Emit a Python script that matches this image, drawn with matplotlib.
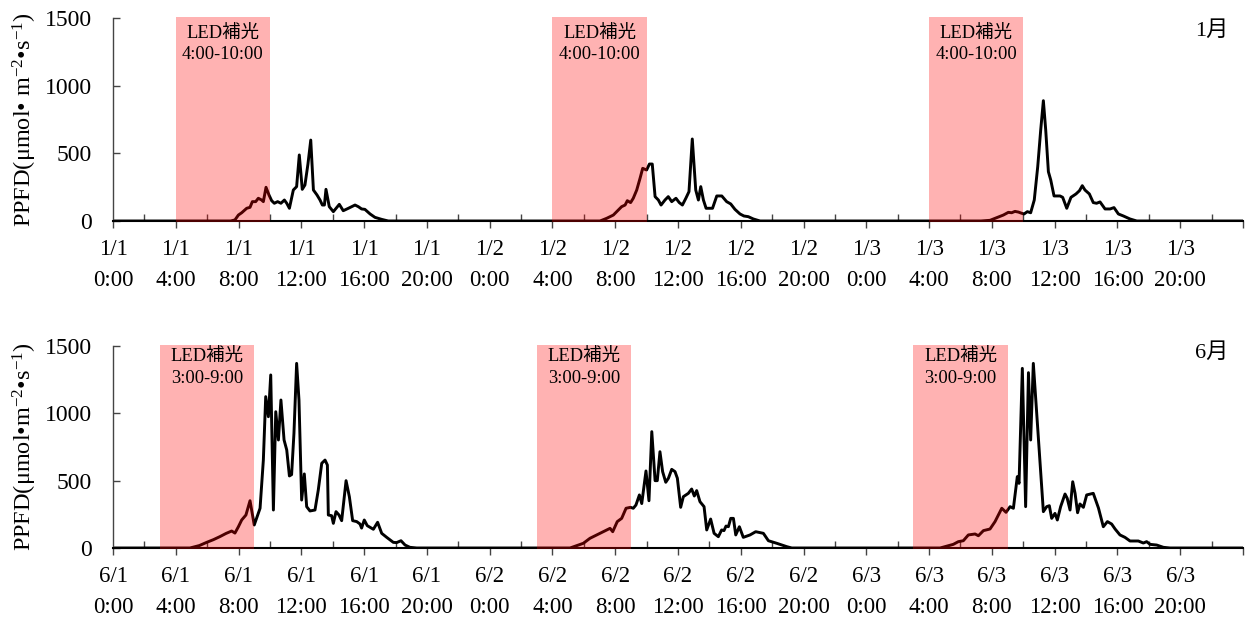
import numpy as np
import matplotlib
matplotlib.use("Agg")
import matplotlib.pyplot as plt
from matplotlib.ticker import FixedLocator

plt.rcParams['font.family'] = ['Liberation Serif', 'Noto Sans CJK JP']
plt.rcParams['mathtext.fontset'] = 'custom'
plt.rcParams['mathtext.rm'] = 'Liberation Serif'
plt.rcParams['mathtext.it'] = 'Liberation Serif:italic'

# ---------------- data (hours since day-1 0:00, PPFD) ----------------
jan_d1_t = [0, 7.5, 7.77, 7.99, 8.2, 8.52, 8.73, 8.88, 9.09, 9.26, 9.47, 9.58, 9.75, 9.94, 10.11,
            10.28, 10.49, 10.7, 10.92, 11.07, 11.24, 11.49, 11.7, 11.87, 12.06, 12.23, 12.42, 12.6,
            12.77, 13.0, 13.19, 13.34, 13.47, 13.57, 13.78, 14.04, 14.42, 14.67, 15.0, 15.42, 15.63,
            15.84, 16.05, 16.38, 16.69, 17.12, 17.54]
jan_d1_v = [0, 0, 8, 44, 61, 94, 101, 143, 143, 168, 155, 143, 249, 192, 150,
            131, 143, 131, 155, 131, 94, 229, 254, 488, 234, 266, 420, 598,
            229, 192, 155, 118, 118, 234, 106, 69, 123, 76, 94, 118, 106,
            89, 86, 52, 27, 12, 0]

jan_d2_t = [31.03, 31.46, 31.88, 32.2, 32.41, 32.63, 32.77, 32.98, 33.15, 33.37, 33.58, 33.75, 34.0,
            34.18, 34.36, 34.54, 34.75, 34.92, 35.17, 35.38, 35.6, 35.87, 36.08, 36.28, 36.5, 36.7,
            36.91, 37.13, 37.3, 37.45, 37.62, 37.79, 38.2, 38.47, 38.79, 39.1, 39.36, 39.63, 39.95,
            40.2, 40.48, 40.8, 41.23]
jan_d2_v = [0, 20, 44, 81, 106, 118, 150, 136, 168, 229, 315, 389, 377,
            421, 421, 180, 155, 118, 155, 180, 143, 168, 136, 118, 168, 217,
            606, 229, 155, 254, 155, 94, 94, 185, 185, 143, 126, 86, 52,
            37, 32, 15, 0]

jan_d3_t = [55.3, 55.88, 56.31, 56.73, 57.05, 57.26, 57.47, 57.69, 57.9, 58.05, 58.26, 58.47, 58.7,
            58.92, 59.11, 59.28, 59.43, 59.6, 59.75, 59.96, 60.34, 60.51, 60.77, 61.04, 61.36, 61.58,
            61.76, 61.93, 62.21, 62.46, 62.67, 62.89, 63.21, 63.53, 63.78, 64.06, 64.38, 64.8, 65.23]
jan_d3_v = [0, 5, 25, 44, 64, 61, 71, 66, 57, 52, 69, 61, 155,
            401, 672, 889, 672, 364, 303, 185, 185, 175, 94, 175, 200, 224,
            261, 229, 200, 136, 131, 141, 89, 89, 99, 52, 37, 15, 0]

jun_d1_t = [0, 4.9, 5.5, 5.97, 6.4, 6.82, 7.2, 7.56, 7.77, 7.99, 8.2, 8.47, 8.73, 9.0, 9.37, 9.58,
            9.73, 9.9, 10.05, 10.22, 10.37, 10.54, 10.7, 10.9, 11.07, 11.24, 11.38, 11.53, 11.7,
            11.85, 12.02, 12.19, 12.34, 12.55, 12.87, 13.08, 13.3, 13.51, 13.66, 13.72, 13.93,
            14.04, 14.21, 14.4, 14.57, 14.85, 15.06, 15.27, 15.53, 15.74, 15.84, 16.01, 16.2,
            16.59, 16.86, 17.12, 17.44, 17.86, 18.07, 18.35, 18.61, 18.92, 19.35]
jun_d1_v = [0, 0, 18, 42, 62, 85, 108, 126, 111, 158, 208, 245, 351, 171, 295, 653,
            1124, 975, 1285, 282, 1012, 802, 1099, 802, 728, 535, 545, 852, 1371,
            1099, 356, 550, 307, 275, 282, 431, 629, 653, 616, 245, 240,
            183, 270, 245, 203, 500, 381, 203, 196, 178, 148, 208, 166,
            139, 191, 109, 79, 42, 40, 54, 22, 5, 0]

jun_d2_t = [29.12, 29.97, 30.39, 31.03, 31.67, 31.84, 32.13, 32.41, 32.69, 32.97, 33.15, 33.32,
            33.54, 33.69, 33.96, 34.15, 34.33, 34.54, 34.68, 34.85, 35.02, 35.22, 35.39, 35.6,
            35.81, 35.96, 36.17, 36.34, 36.66, 36.87, 37.04, 37.19, 37.4, 37.66, 37.83, 38.08,
            38.3, 38.57, 38.78, 38.93, 39.06, 39.21, 39.36, 39.53, 39.68, 39.91, 40.16, 40.59,
            40.95, 41.44, 41.76, 42.29, 42.93, 43.25]
jun_d2_v = [0, 35, 72, 109, 146, 121, 196, 220, 295, 302, 295, 319,
            394, 330, 572, 351, 864, 500, 500, 715, 567, 488, 518, 584,
            567, 518, 302, 381, 406, 438, 386, 426, 344, 307, 134, 215,
            109, 84, 134, 129, 163, 158, 220, 220, 97, 158, 79, 97,
            121, 109, 54, 35, 10, 0]

jun_d3_t = [52.7, 53.54, 53.86, 54.18, 54.5, 54.93, 55.14, 55.46, 55.88, 56.2, 56.63, 56.9, 57.16,
            57.37, 57.62, 57.73, 57.94, 58.15, 58.33, 58.47, 58.64, 59.28, 59.49, 59.66, 59.81,
            60.02, 60.17, 60.38, 60.66, 60.8, 60.98, 61.15, 61.3, 61.46, 61.61, 61.83, 62.04,
            62.46, 62.79, 63.1, 63.36, 63.63, 63.85, 64.16, 64.48, 64.8, 65.33, 65.65, 65.86,
            66.08, 66.5, 66.93, 67.35, 72]
jun_d3_v = [0, 27, 47, 54, 97, 104, 91, 129, 141, 196, 295, 265, 307,
            295, 530, 480, 1334, 307, 1302, 802, 1371, 270, 307, 314, 220,
            257, 208, 307, 401, 369, 282, 492, 406, 262, 327, 302, 394,
            406, 297, 158, 196, 178, 141, 97, 79, 52, 52, 37, 47,
            27, 22, 5, 0, 0]

panels = [
    dict(t=jan_d1_t + jan_d2_t + jan_d3_t + [72], v=jan_d1_v + jan_d2_v + jan_d3_v + [0],
         month=1, led=(4, 10), led_text="4:00-10:00", tag="1月",
         ylabel=r"PPFD(μmol• m$^{\mathrm{-2}}$•s$^{\mathrm{-1}}$)"),
    dict(t=jun_d1_t + jun_d2_t + jun_d3_t, v=jun_d1_v + jun_d2_v + jun_d3_v,
         month=6, led=(3, 9), led_text="3:00-9:00", tag="6月",
         ylabel=r"PPFD(μmol•m$^{\mathrm{-2}}$•s$^{\mathrm{-1}}$)"),
]

W, H = 1249, 619
fig = plt.figure(figsize=(W / 100, H / 100), dpi=100)
boxes = [(113, 18, 221), (113, 346, 548)]
axes = []

for p, (lx, ty, by) in zip(panels, boxes):
    ax = fig.add_axes([lx / W, 1 - by / H, (1243 - lx) / W, (by - ty) / H])
    axes.append(ax)
    ax.plot(p['t'], p['v'], color='black', lw=2.1, zorder=2)
    for d in range(3):
        a, b = p['led']
        ax.axvspan(24 * d + a, 24 * d + b, ymin=-0.006, ymax=1.005, color='red', alpha=0.3,
                   lw=0, zorder=3, clip_on=False)
        mid = 24 * d + (a + b) / 2
        if p['month'] == 1:
            y1, y2 = 1385, 1230
        else:
            y1, y2 = 1425, 1255
        ax.text(mid, y1, "LED補光", ha='center', va='center', fontsize=13.3, zorder=4)
        ax.text(mid, y2, p['led_text'], ha='center', va='center', fontsize=13.3, zorder=4)
    ax.text(70.0, 1405 + (44 if p['month'] == 6 else 0), p['tag'], ha='center', va='center',
            fontsize=16)
    ax.set_xlim(0, 72)
    ax.set_ylim(0, 1500)
    ax.set_yticks([0, 500, 1000, 1500])
    major = list(range(0, 73, 4))
    labels = []
    for h in major:
        if h >= 72:
            labels.append("")
        else:
            labels.append(f"{p['month']}/{h // 24 + 1}\n{h % 24}:00")
    ax.xaxis.set_major_locator(FixedLocator(major))
    ax.set_xticklabels(labels)
    ax.xaxis.set_minor_locator(FixedLocator(list(range(2, 72, 4))))
    for s in ['top', 'right']:
        ax.spines[s].set_visible(False)
    ax.spines['left'].set_color('#444444')
    ax.spines['left'].set_linewidth(1.0)
    ax.spines['bottom'].set_color('black')
    ax.spines['bottom'].set_linewidth(1.5)
    ax.tick_params(axis='y', direction='in', length=5, width=1, color='#444444',
                   labelsize=17, pad=15)
    ax.tick_params(axis='x', which='major', direction='out', length=5, width=1,
                   color='#444444', labelsize=16.5, pad=8)
    ax.tick_params(axis='x', which='minor', direction='in', length=5, width=1, color='#444444')
    ax.set_ylabel(p['ylabel'], fontsize=17.5)
    ax.yaxis.set_label_coords(-(lx - 39) / (1243 - lx), 0.5)

fig.canvas.draw()
for ax in axes:
    for lbl in ax.get_xticklabels():
        lbl.set_linespacing(1.6)

fig.savefig("out.png", dpi=100)
